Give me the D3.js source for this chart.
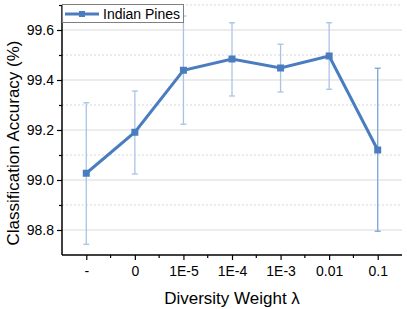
<!DOCTYPE html>
<html><head><meta charset="utf-8">
<script src="https://cdn.jsdelivr.net/npm/d3@7/dist/d3.min.js"></script>
<style>body{margin:0;background:#fff;} text{font-family:"Liberation Sans",Arial,sans-serif;}</style>
</head><body><svg id="c" width="407" height="309"></svg>
<script>
const categories = ["-", "0", "1E-5", "1E-4", "1E-3", "0.01", "0.1"];
const accuracy = [99.027, 99.191, 99.439, 99.484, 99.448, 99.496, 99.120];
const errUpper = [99.309, 99.356, 99.656, 99.629, 99.543, 99.629, 99.447];
const errLower = [98.743, 99.024, 99.223, 99.336, 99.352, 99.363, 98.795];
const majorTicks = [98.8, 99.0, 99.2, 99.4, 99.6];
const minorTicks = [98.9, 99.1, 99.3, 99.5, 99.7];
const seriesName = "Indian Pines";

const svg = d3.select("#c");
const L = 62, R = 402, T = 5, B = 255;
const x = d3.scalePoint().domain(categories).range([L, R]).padding(0.5);
const y = d3.scaleLinear().domain([98.7, 99.7]).range([B, T]);
const blue = "#4a7dbf";

// grid
svg.append("g").selectAll("line").data(majorTicks).join("line")
  .attr("x1", L).attr("x2", R).attr("y1", d => y(d)).attr("y2", d => y(d))
  .attr("stroke", "#d9d9d9").attr("stroke-width", 1);
svg.append("g").selectAll("line").data(minorTicks).join("line")
  .attr("x1", L).attr("x2", R).attr("y1", d => y(d)).attr("y2", d => y(d))
  .attr("stroke", "#d9d9d9").attr("stroke-width", 1).attr("stroke-dasharray", "2,2");

// y axis
const ya = svg.append("g").attr("transform", `translate(${L},0)`)
  .call(d3.axisLeft(y).tickValues(majorTicks).tickFormat(d3.format(".1f")).tickSize(5).tickPadding(3));
ya.select(".domain").attr("stroke", "#000").attr("stroke-width", 1.5).attr("d", `M0,${B}V${T}`);
ya.selectAll("text").attr("font-size", 14).attr("fill", "#000").attr("font-family", "Liberation Sans, Arial, sans-serif");
ya.selectAll(".tick line").attr("stroke", "#000").attr("stroke-width", 1.2);
svg.append("g").attr("transform", `translate(${L},0)`)
  .call(d3.axisLeft(y).tickValues(minorTicks).tickSize(3).tickFormat(""))
  .call(g => g.select(".domain").remove())
  .selectAll("line").attr("stroke", "#000").attr("stroke-width", 1.2);

// x axis
const xa = svg.append("g").attr("transform", `translate(0,${B})`)
  .call(d3.axisBottom(x).tickSize(5).tickPadding(6));
xa.select(".domain").attr("stroke", "#000").attr("stroke-width", 1.5).attr("d", `M${L},0H${R}`);
xa.selectAll("text").attr("font-size", 14).attr("fill", "#000").attr("font-family", "Liberation Sans, Arial, sans-serif");
xa.selectAll(".tick line").attr("stroke", "#000").attr("stroke-width", 1.2);
const step = x.step();
const mids = categories.slice(1).map(c => x(c) - step / 2);
svg.append("g").selectAll("line").data(mids).join("line")
  .attr("x1", d => d).attr("x2", d => d).attr("y1", B).attr("y2", B + 3)
  .attr("stroke", "#000").attr("stroke-width", 1.2);

// error bars
const eb = svg.append("g");
categories.forEach((c, i) => {
  const col = i === categories.length - 1 ? "#7ea3d6" : "#a9c3e6";
  const cx = x(c);
  eb.append("line").attr("x1", cx).attr("x2", cx).attr("y1", y(errUpper[i])).attr("y2", y(errLower[i])).attr("stroke", col).attr("stroke-width", 1.3);
  [errUpper[i], errLower[i]].forEach(v => eb.append("line").attr("x1", cx - 3).attr("x2", cx + 3).attr("y1", y(v)).attr("y2", y(v)).attr("stroke", col).attr("stroke-width", 1.3));
});

// line
const line = d3.line().x((d, i) => x(categories[i])).y(d => y(d));
svg.append("path").datum(accuracy).attr("d", line).attr("fill", "none").attr("stroke", blue).attr("stroke-width", 3);
svg.append("g").selectAll("rect").data(accuracy).join("rect")
  .attr("x", (d, i) => x(categories[i]) - 3.5).attr("y", d => y(d) - 3.5)
  .attr("width", 7).attr("height", 7).attr("fill", blue);

// legend
const lg = svg.append("g");
lg.append("rect").attr("x", 62.5).attr("y", 4.5).attr("width", 121).attr("height", 18).attr("fill", "#fff").attr("stroke", "#808080").attr("stroke-width", 1);
lg.append("line").attr("x1", 65).attr("x2", 99).attr("y1", 14).attr("y2", 14).attr("stroke", blue).attr("stroke-width", 3);
lg.append("rect").attr("x", 79).attr("y", 11).attr("width", 6).attr("height", 6).attr("fill", blue);
lg.append("text").attr("x", 103).attr("y", 19).attr("font-size", 14).text(seriesName);

// titles
svg.append("text").attr("x", 232).attr("y", 304).attr("text-anchor", "middle").attr("font-size", 17).text("Diversity Weight λ");
svg.append("text").attr("transform", `translate(19,143) rotate(-90)`).attr("text-anchor", "middle").attr("font-size", 17).text("Classification Accuracy (%)");
</script></body></html>
